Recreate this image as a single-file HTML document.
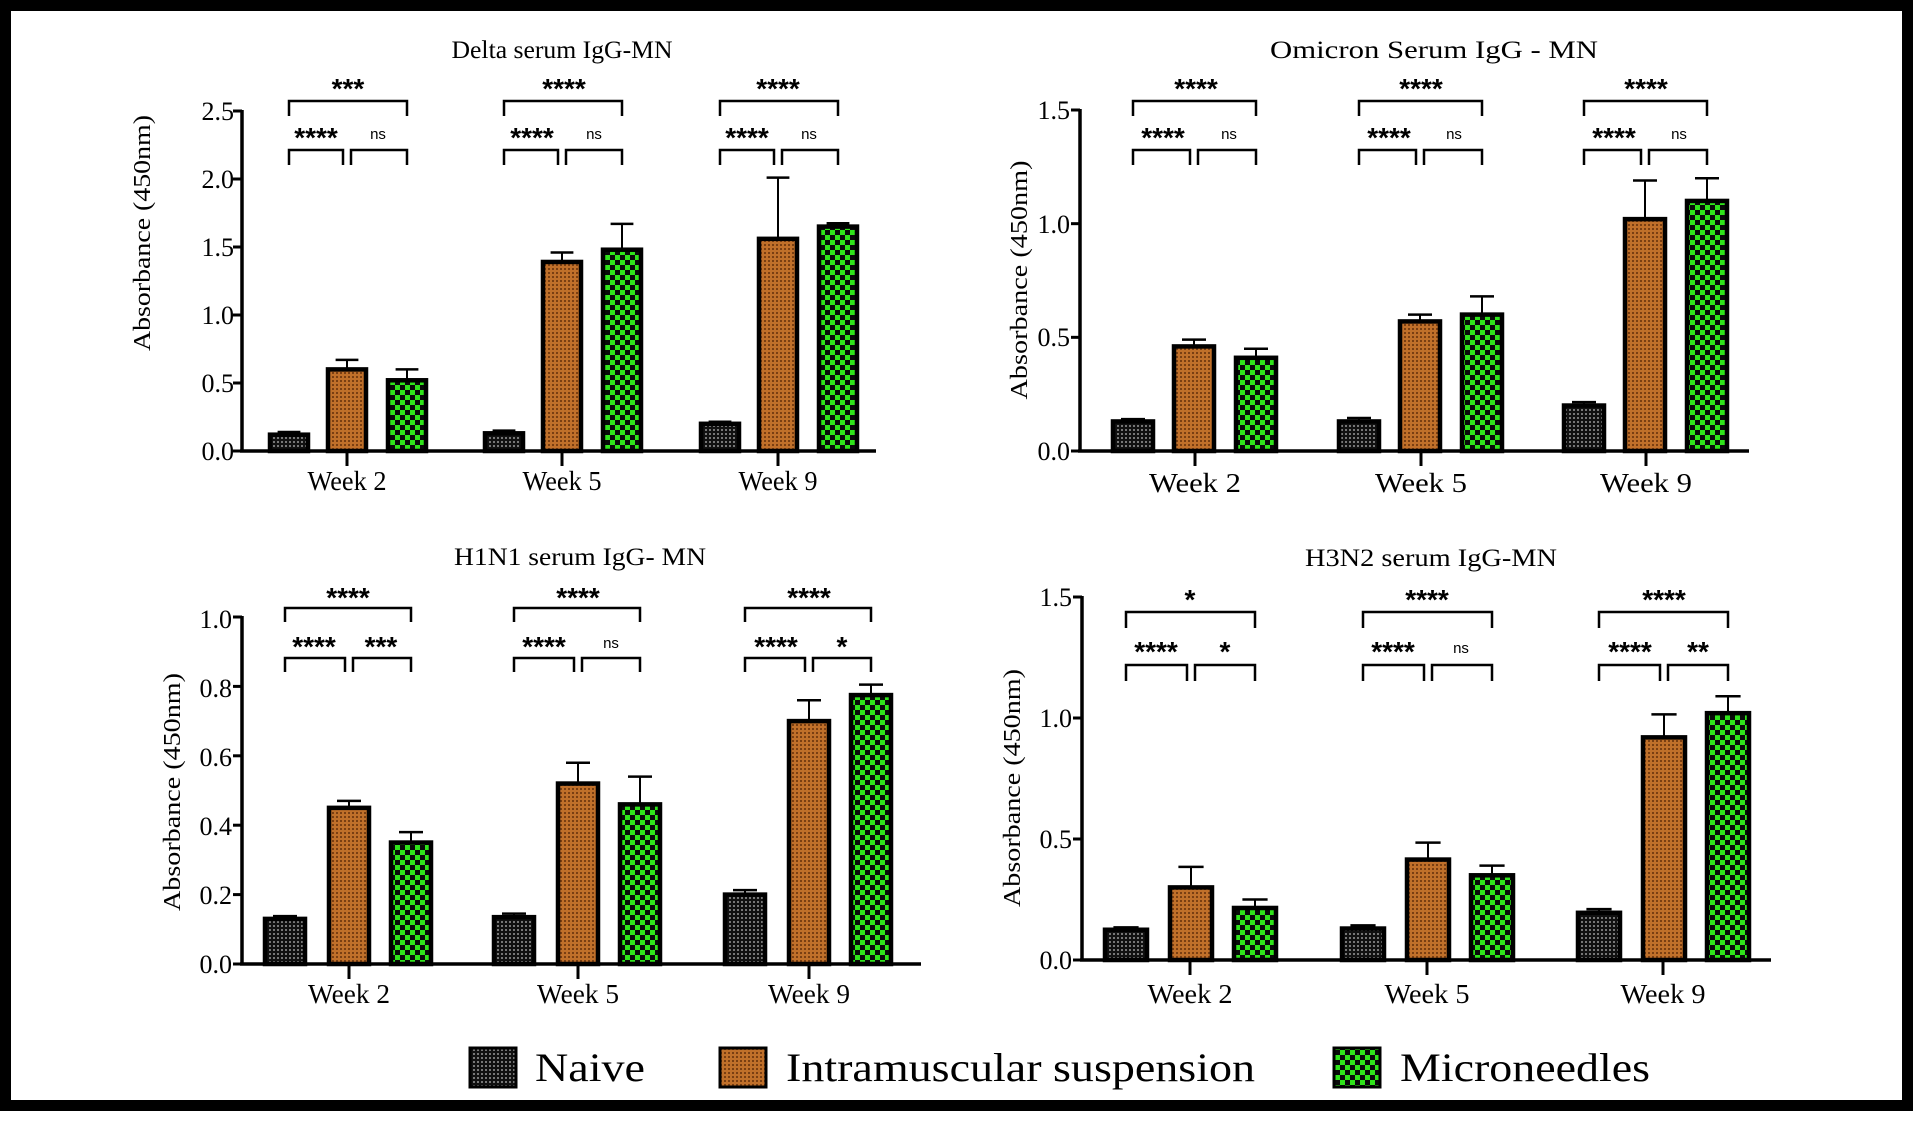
<!DOCTYPE html>
<html><head><meta charset="utf-8"><style>
html,body{margin:0;padding:0;background:#fff;}
svg{display:block;}
text{font-family:"Liberation Serif",serif;fill:#000;}
.st{font-family:"Liberation Sans",sans-serif;font-weight:bold;font-size:28px;}
.ns{font-family:"Liberation Sans",sans-serif;font-size:15px;}
.tk{font-size:26px;}
.wk{font-size:27px;}
.ttl{font-size:25px;}
.yl{font-size:24px;}
.lg{font-size:40px;}
</style></head><body>
<svg id="s" width="1920" height="1127" viewBox="0 0 1920 1127" xmlns="http://www.w3.org/2000/svg">
<defs>
<pattern id="pn" width="4" height="4" patternUnits="userSpaceOnUse"><rect width="4" height="4" fill="#111"/><rect x="1" y="1" width="2" height="2" fill="#777"/></pattern>
<pattern id="pi" width="4" height="4" patternUnits="userSpaceOnUse"><rect width="4" height="4" fill="#c0702a"/><rect x="0" y="0" width="2" height="2" fill="#7a3f12"/></pattern>
<pattern id="pm" width="10" height="10" patternUnits="userSpaceOnUse"><rect width="10" height="10" fill="#0a0a0a"/><rect x="0" y="0" width="5" height="5" fill="#2fe41a"/><rect x="5" y="5" width="5" height="5" fill="#2fe41a"/></pattern>
</defs>
<rect x="5.5" y="5.5" width="1902" height="1100" fill="none" stroke="#000" stroke-width="11"/>
<g id="g"></g>

<!-- Panel 1 -->
<text class="ttl" x="562" y="58" text-anchor="middle" textLength="221" lengthAdjust="spacingAndGlyphs">Delta serum IgG-MN</text>
<text class="yl" transform="translate(150,233) rotate(-90)" text-anchor="middle" textLength="236" lengthAdjust="spacingAndGlyphs">Absorbance (450nm)</text>
<g class="tk" text-anchor="end">
<text x="234" y="460">0.0</text><text x="234" y="392">0.5</text><text x="234" y="324">1.0</text><text x="234" y="256">1.5</text><text x="234" y="188">2.0</text><text x="234" y="120">2.5</text>
</g>
<g class="wk" text-anchor="middle">
<text x="347" y="490" textLength="79" lengthAdjust="spacingAndGlyphs">Week 2</text><text x="562" y="490" textLength="79" lengthAdjust="spacingAndGlyphs">Week 5</text><text x="778" y="490" textLength="79" lengthAdjust="spacingAndGlyphs">Week 9</text>
</g>
<g text-anchor="middle">
<text class="st" x="348" y="98">***</text><text class="st" x="564" y="98">****</text><text class="st" x="778" y="98">****</text>
<text class="st" x="316" y="147">****</text><text class="ns" x="378" y="139">ns</text>
<text class="st" x="532" y="147">****</text><text class="ns" x="594" y="139">ns</text>
<text class="st" x="747" y="147">****</text><text class="ns" x="809" y="139">ns</text>
</g>

<!-- Panel 2 -->
<text class="ttl" x="1434" y="58" text-anchor="middle" textLength="328" lengthAdjust="spacingAndGlyphs">Omicron Serum IgG - MN</text>
<text class="yl" transform="translate(1027,280) rotate(-90)" text-anchor="middle" textLength="239" lengthAdjust="spacingAndGlyphs">Absorbance (450nm)</text>
<g class="tk" text-anchor="end">
<text x="1070" y="460">0.0</text><text x="1070" y="346">0.5</text><text x="1070" y="233">1.0</text><text x="1070" y="119">1.5</text>
</g>
<g class="wk" text-anchor="middle">
<text x="1195" y="492" textLength="92" lengthAdjust="spacingAndGlyphs">Week 2</text><text x="1421" y="492" textLength="92" lengthAdjust="spacingAndGlyphs">Week 5</text><text x="1646" y="492" textLength="92" lengthAdjust="spacingAndGlyphs">Week 9</text>
</g>
<g text-anchor="middle">
<text class="st" x="1196" y="98">****</text><text class="st" x="1421" y="98">****</text><text class="st" x="1646" y="98">****</text>
<text class="st" x="1163" y="147">****</text><text class="ns" x="1229" y="139">ns</text>
<text class="st" x="1389" y="147">****</text><text class="ns" x="1454" y="139">ns</text>
<text class="st" x="1614" y="147">****</text><text class="ns" x="1679" y="139">ns</text>
</g>

<!-- Panel 3 -->
<text class="ttl" x="580" y="565" text-anchor="middle" textLength="252" lengthAdjust="spacingAndGlyphs">H1N1 serum IgG- MN</text>
<text class="yl" transform="translate(180,792) rotate(-90)" text-anchor="middle" textLength="238" lengthAdjust="spacingAndGlyphs">Absorbance (450nm)</text>
<g class="tk" text-anchor="end">
<text x="232" y="973">0.0</text><text x="232" y="904">0.2</text><text x="232" y="835">0.4</text><text x="232" y="766">0.6</text><text x="232" y="697">0.8</text><text x="232" y="628">1.0</text>
</g>
<g class="wk" text-anchor="middle">
<text x="349" y="1003" textLength="82" lengthAdjust="spacingAndGlyphs">Week 2</text><text x="578" y="1003" textLength="82" lengthAdjust="spacingAndGlyphs">Week 5</text><text x="809" y="1003" textLength="82" lengthAdjust="spacingAndGlyphs">Week 9</text>
</g>
<g text-anchor="middle">
<text class="st" x="348" y="607">****</text><text class="st" x="578" y="607">****</text><text class="st" x="809" y="607">****</text>
<text class="st" x="314" y="656">****</text><text class="st" x="381" y="656">***</text>
<text class="st" x="544" y="656">****</text><text class="ns" x="611" y="648">ns</text>
<text class="st" x="776" y="656">****</text><text class="st" x="842" y="656">*</text>
</g>

<!-- Panel 4 -->
<text class="ttl" x="1431" y="566" text-anchor="middle" textLength="252" lengthAdjust="spacingAndGlyphs">H3N2 serum IgG-MN</text>
<text class="yl" transform="translate(1020,788) rotate(-90)" text-anchor="middle" textLength="238" lengthAdjust="spacingAndGlyphs">Absorbance (450nm)</text>
<g class="tk" text-anchor="end">
<text x="1072" y="969">0.0</text><text x="1072" y="848">0.5</text><text x="1072" y="727">1.0</text><text x="1072" y="606">1.5</text>
</g>
<g class="wk" text-anchor="middle">
<text x="1190" y="1003" textLength="85" lengthAdjust="spacingAndGlyphs">Week 2</text><text x="1427" y="1003" textLength="85" lengthAdjust="spacingAndGlyphs">Week 5</text><text x="1663" y="1003" textLength="85" lengthAdjust="spacingAndGlyphs">Week 9</text>
</g>
<g text-anchor="middle">
<text class="st" x="1190" y="609">*</text><text class="st" x="1427" y="609">****</text><text class="st" x="1664" y="609">****</text>
<text class="st" x="1156" y="661">****</text><text class="st" x="1225" y="661">*</text>
<text class="st" x="1393" y="661">****</text><text class="ns" x="1461" y="653">ns</text>
<text class="st" x="1630" y="661">****</text><text class="st" x="1698" y="661">**</text>
</g>

<!-- Legend -->
<rect x="470" y="1048" width="46" height="39" fill="url(#pn)" stroke="#000" stroke-width="3"/>
<text class="lg" x="535" y="1081" textLength="110" lengthAdjust="spacingAndGlyphs">Naive</text>
<rect x="720" y="1048" width="46" height="39" fill="url(#pi)" stroke="#000" stroke-width="3"/>
<text class="lg" x="786" y="1081" textLength="469" lengthAdjust="spacingAndGlyphs">Intramuscular suspension</text>
<rect x="1334" y="1048" width="46" height="39" fill="url(#pm)" stroke="#000" stroke-width="3"/>
<text class="lg" x="1400" y="1081" textLength="250" lengthAdjust="spacingAndGlyphs">Microneedles</text>
</svg>
<script>
var NS="http://www.w3.org/2000/svg",g=document.getElementById("g");
function el(t,a){var e=document.createElementNS(NS,t);for(var k in a)e.setAttribute(k,a[k]);g.appendChild(e);return e;}
function ln(x1,y1,x2,y2,w){el("line",{x1:x1,y1:y1,x2:x2,y2:y2,stroke:"#000","stroke-width":w||2});}
var P=[
{ax:242,y0:451,yt:111,max:2.5,step:0.5,xe:876,t:[347,562,778],off:[-58,0,60],bw:38,bt:101,bl:150,leg:15,
 v:[[.12,.02],[.6,.07],[.52,.08],[.13,.02],[1.39,.07],[1.48,.19],[.2,.015],[1.56,.45],[1.65,.025]]},
{ax:1080,y0:451,yt:110,max:1.5,step:0.5,xe:1749,t:[1195,1421,1646],off:[-62,-1,61],bw:40,bt:101,bl:150,leg:15,
 v:[[.13,.01],[.46,.03],[.41,.04],[.13,.015],[.57,.03],[.6,.08],[.2,.015],[1.02,.17],[1.1,.1]]},
{ax:242,y0:964,yt:617,max:1.0,step:0.2,xe:921,t:[349,578,809],off:[-64,0,62],bw:40,bt:608,bl:658,leg:14,
 v:[[.13,.008],[.45,.02],[.35,.03],[.135,.01],[.52,.06],[.46,.08],[.2,.013],[.7,.06],[.775,.03]]},
{ax:1082,y0:960,yt:597,max:1.5,step:0.5,xe:1771,t:[1190,1427,1663],off:[-64,1,65],bw:42,bt:612,bl:665,leg:16,
 v:[[.125,.01],[.3,.085],[.215,.035],[.13,.013],[.415,.07],[.35,.04],[.195,.015],[.92,.095],[1.02,.07]]}
];
var F=["url(#pn)","url(#pi)","url(#pm)"];
P.forEach(function(p){
 var sc=(p.y0-p.yt)/p.max;
 for(var i=0;i<3;i++)for(var j=0;j<3;j++){
  var d=p.v[i*3+j],cx=p.t[i]+p.off[j],h=d[0]*sc,top=p.y0-h,et=p.y0-(d[0]+d[1])*sc;
  ln(cx,top,cx,et,2);ln(cx-p.bw*0.3,et,cx+p.bw*0.3,et,2.5);
  el("rect",{x:cx-p.bw/2,y:top,width:p.bw,height:h,fill:F[j],stroke:"#000","stroke-width":4.5});
 }
 ln(p.ax,p.yt-1,p.ax,p.y0+1,3.5);ln(p.ax-2,p.y0,p.xe,p.y0,3.5);
 for(var v=0;v<=p.max+1e-9;v+=p.step){var y=p.y0-v*sc;ln(p.ax-9,y,p.ax,y,3);}
 p.t.forEach(function(x,i){ln(x,p.y0,x,p.y0+15,3);
  var a=x+p.off[0],b=x+p.off[1],c=x+p.off[2];
  el("polyline",{points:[a,p.bt+p.leg,a,p.bt,c,p.bt,c,p.bt+p.leg].join(" "),fill:"none",stroke:"#000","stroke-width":2.5});
  el("polyline",{points:[a,p.bl+p.leg,a,p.bl,b-4,p.bl,b-4,p.bl+p.leg].join(" "),fill:"none",stroke:"#000","stroke-width":2.5});
  el("polyline",{points:[b+4,p.bl+p.leg,b+4,p.bl,c,p.bl,c,p.bl+p.leg].join(" "),fill:"none",stroke:"#000","stroke-width":2.5});
 });
});
</script>
</body></html>
